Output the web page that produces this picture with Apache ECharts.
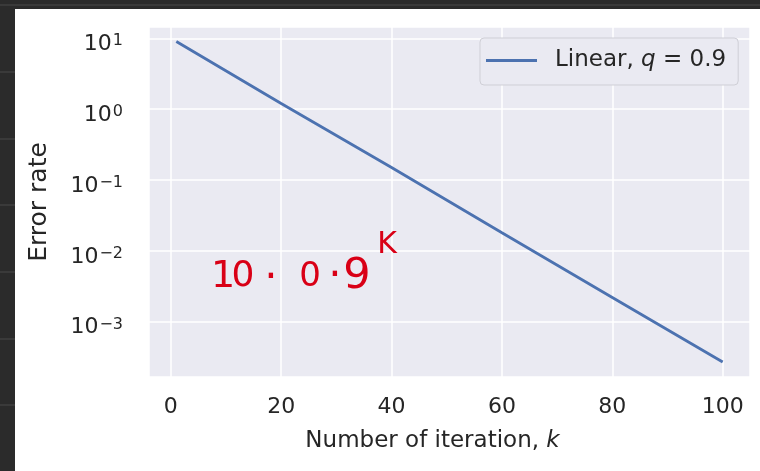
<!DOCTYPE html>
<html>
<head>
<meta charset="utf-8">
<style>
  html, body { margin: 0; padding: 0; background: #2b2b2b; }
  #chart { width: 760px; height: 471px; }
</style>
<script src="https://cdn.jsdelivr.net/npm/echarts@6/dist/echarts.min.js"></script>
</head>
<body>
<div id="chart"></div>
<script>
// values
const iterations = [1, 20, 40, 60, 80, 100]
const errorRate = [9.0, 1.2, 0.15, 0.018, 0.0022, 0.00027]
const seriesName = 'Linear, q = 0.9'

const font = 'DejaVu Sans'
const textColor = '#262626'
const red = '#d90016'

function supLabel (value) {
  let e = Math.round(Math.log10(value))
  let s = e < 0 ? '\u2212' + (-e) : '' + e
  return '{b|10}{s|' + s + '}'
}

// handwritten note, one glyph at a time
let note = [
  { t: '1', x: 223, y: 277, size: 38 },
  { t: '0', x: 243, y: 277, size: 36 },
  { t: '\u00b7', x: 271, y: 279, size: 42 },
  { t: '0', x: 310, y: 277, size: 34 },
  { t: '\u00b7', x: 335, y: 277, size: 42 },
  { t: '9', x: 357, y: 277, size: 43 },
  { t: 'K', x: 387, y: 245, size: 30 }
].map(function (g) {
  return {
    type: 'text',
    x: g.x,
    y: g.y,
    z: 100,
    style: {
      text: g.t,
      fill: red,
      font: g.size + 'px "DejaVu Sans"',
      align: 'center',
      verticalAlign: 'middle'
    }
  }
})

let sideLines = [72, 139, 205, 272, 339, 405].map(function (y) {
  return {
    type: 'line',
    shape: { x1: 0, y1: y, x2: 15, y2: y },
    style: { stroke: '#4a4a4a', lineWidth: 1 },
    z: -9
  }
})

let option = {
  backgroundColor: '#2b2b2b',
  animation: false,
  grid: { left: 149, top: 27, right: 10, bottom: 94 },
  legend: {
    data: [seriesName],
    left: 480,
    top: 38,
    padding: [11, 12, 13, 6],
    icon: 'rect',
    itemWidth: 51,
    itemHeight: 3,
    backgroundColor: '#eaeaf2',
    borderColor: '#cfcfd6',
    borderWidth: 1,
    borderRadius: 4,
    formatter: function () {
      return '{sp|}{a|Linear, }{q|q}{a| = 0.9}'
    },
    textStyle: {
      color: textColor,
      fontFamily: font,
      fontSize: 23,
      rich: {
        sp: { width: 13, lineHeight: 23 },
        a: { fontFamily: font, fontSize: 23, lineHeight: 23, color: textColor },
        q: { fontFamily: font, fontSize: 23, lineHeight: 23, fontStyle: 'italic', color: textColor }
      }
    }
  },
  xAxis: {
    type: 'value',
    min: -3.95,
    max: 104.95,
    splitNumber: 5,
    name: 'Number of iteration, {i|k}',
    nameLocation: 'middle',
    nameGap: 53,
    nameTextStyle: {
      fontFamily: font,
      fontSize: 23,
      color: textColor,
      padding: [0, 34, 0, 0],
      rich: {
        i: { fontFamily: font, fontSize: 23, fontStyle: 'italic', color: textColor }
      }
    },
    axisLine: { show: false },
    axisTick: { show: false },
    axisLabel: {
      showMinLabel: false,
      showMaxLabel: false,
      margin: 19,
      fontFamily: font,
      fontSize: 22,
      color: textColor
    },
    splitLine: { lineStyle: { color: '#ffffff', width: 1.5 } }
  },
  yAxis: {
    type: 'log',
    logBase: 10,
    min: Math.pow(10, -3.78),
    max: Math.pow(10, 1.16),
    name: 'Error rate',
    nameLocation: 'middle',
    nameGap: 97,
    nameTextStyle: { fontFamily: font, fontSize: 25, color: textColor },
    axisLine: { show: false },
    axisTick: { show: false },
    axisLabel: {
      showMinLabel: false,
      showMaxLabel: false,
      margin: 26,
      padding: [12, 0, 0, 0],
      formatter: supLabel,
      rich: {
        b: { fontFamily: font, fontSize: 22, color: textColor, verticalAlign: 'bottom', lineHeight: 22 },
        s: { fontFamily: font, fontSize: 16, color: textColor, verticalAlign: 'top', lineHeight: 16, padding: [0, 0, 0, 1] }
      }
    },
    splitLine: { lineStyle: { color: '#ffffff', width: 1.5 } }
  },
  graphic: [
    { type: 'rect', shape: { x: 15, y: 9, width: 745, height: 462 }, style: { fill: '#ffffff' }, z: -10 },
    { type: 'line', shape: { x1: 0, y1: 5, x2: 760, y2: 5 }, style: { stroke: '#4a4a4a', lineWidth: 1 }, z: -9 },
    { type: 'rect', shape: { x: 149, y: 27, width: 601, height: 350 }, style: { fill: '#eaeaf2' }, z: -5 }
  ].concat(sideLines, note),
  series: [
    {
      name: seriesName,
      type: 'line',
      data: iterations.map(function (k, i) { return [k, errorRate[i]] }),
      symbol: 'none',
      lineStyle: { color: '#4c72b0', width: 2.8 },
      itemStyle: { color: '#4c72b0' }
    }
  ]
}

let chart = echarts.init(document.getElementById('chart'))
chart.setOption(option)
</script>
</body>
</html>
